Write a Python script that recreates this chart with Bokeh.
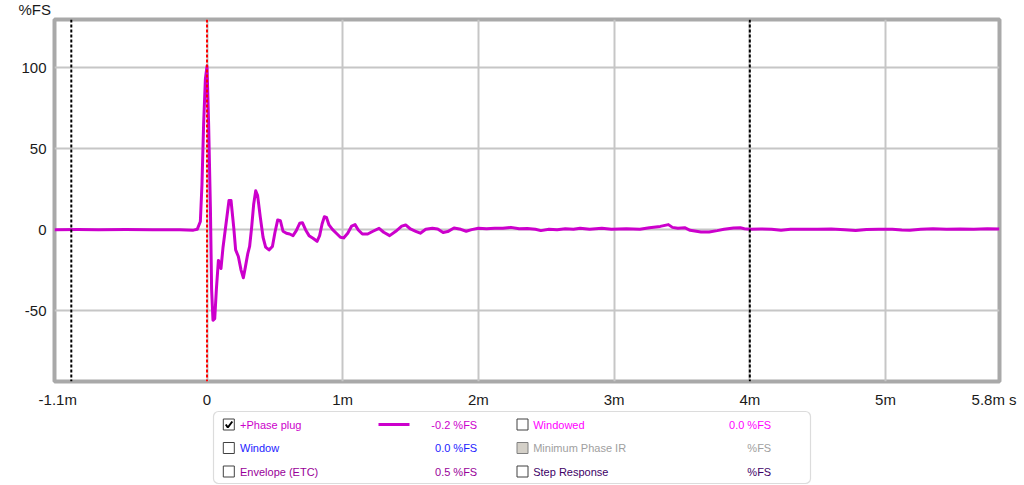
from bokeh.plotting import figure
from bokeh.models import Range1d, FixedTicker, Span, BoxAnnotation, Title
from bokeh.layouts import column
from bokeh.core.properties import value
from bokeh.embed import file_html
from bokeh.resources import INLINE

# ---------------- data ----------------
time_ms = [-1.124, -0.95, -0.80, -0.60, -0.40, -0.20, -0.10, -0.072, -0.049, -0.037, -0.025, -0.012,
           0.0, 0.012, 0.025, 0.034, 0.044, 0.057, 0.069, 0.084, 0.093, 0.103, 0.118, 0.143,
           0.162, 0.177, 0.197, 0.211, 0.231, 0.251, 0.268, 0.283, 0.300, 0.314, 0.329, 0.344,
           0.359, 0.373, 0.393, 0.413, 0.432, 0.457, 0.482, 0.501, 0.521, 0.541, 0.560, 0.585,
           0.609, 0.634, 0.658, 0.683, 0.703, 0.727, 0.752, 0.781, 0.811, 0.830, 0.848, 0.865,
           0.880, 0.899, 0.924, 0.953, 0.983, 1.007, 1.037, 1.066, 1.091, 1.115, 1.145, 1.184,
           1.223, 1.268, 1.302, 1.346, 1.391, 1.435, 1.464, 1.499, 1.538, 1.572, 1.612, 1.661,
           1.700, 1.740, 1.774, 1.82, 1.87, 1.91, 1.95, 2.00, 2.06, 2.12, 2.18, 2.24, 2.30, 2.36,
           2.42, 2.46, 2.52, 2.58, 2.64, 2.70, 2.75, 2.82, 2.91, 2.98, 3.09, 3.19, 3.26, 3.34,
           3.40, 3.43, 3.47, 3.52, 3.56, 3.64, 3.70, 3.76, 3.81, 3.88, 3.93, 3.96, 4.00, 4.08,
           4.16, 4.23, 4.30, 4.40, 4.50, 4.60, 4.70, 4.78, 4.86, 4.95, 5.05, 5.12, 5.18, 5.26,
           5.35, 5.45, 5.55, 5.65, 5.75, 5.84]
level_fs = [0.0, 0.1, 0.0, 0.1, 0.0, -0.1, -0.3, 0.2, 5, 28, 65, 93,
            101, 65, 14, -37, -56, -55, -37, -19, -21, -24, -11, 5.5,
            18, 18, 1.4, -12.5, -16.6, -25, -29.7, -23, -15, -10.4, 1.4, 15.7,
            24, 21, 7.6, -4.7, -10.8, -12.5, -10.4, -1.6, 6, 5.5, -1, -2.2,
            -2.7, -3.7, -0.6, 3.9, 4.3, -0.2, -3.7, -5.3, -7.2, -3.7, 3.5, 8,
            7.6, 2.9, 0.2, -2.2, -4.7, -5.1, -2.2, 2.2, 3.1, -0.2, -2.7, -2.7,
            -1.0, 0.8, -1.6, -3.7, -1.0, 2.2, 2.9, 0.4, -1.0, -2.2, 0.2, 0.8,
            0.4, -1.8, -1.2, 1.0, 0.2, -1.0, 0.0, 0.8, 0.6, 0.9, 0.8, 1.4, 0.5, 0.7,
            0.2, -0.6, 0.2, 0.0, 0.5, 0.2, 0.9, 0.2, 0.9, 0.3, 0.6, 0.2, 1.2, 2.0,
            3.1, 1.4, 0.9, 1.2, -0.4, -1.4, -1.4, -0.6, 0.2, 1.0, 1.2, 0.6, 0.2, 0.4,
            0.3, -0.4, 0.2, 0.3, 0.2, 0.4, 0.0, -0.6, 0.1, 0.3, 0.2, -0.2, -0.4, 0.2,
            0.6, 0.3, 0.4, 0.3, 0.5, 0.4]

x_ticks = [-1.1, 0, 1, 2, 3, 4, 5, 5.8]
x_tick_labels = ["-1.1m", "0", "1m", "2m", "3m", "4m", "5m", "5.8m s"]
x_grid = [0, 1, 2, 3, 4, 5]
y_ticks = [-50, 0, 50, 100]
y_tick_labels = ["-50", "0", "50", "100"]
y_label = "%FS"

cursor_black = [-1.0, 4.0]
cursor_red = [0.0]

legend_names = ["+Phase plug", "Window", "Envelope (ETC)", "Windowed", "Minimum Phase IR", "Step Response"]
legend_values = ["-0.2 %FS", "0.0 %FS", "0.5 %FS", "0.0 %FS", "%FS", "%FS"]
legend_colors = ["#cc00cc", "#2222ff", "#990099", "#ff00ff", "#a0a0a0", "#3d0066"]
legend_checked = [True, False, False, False, False, False]
legend_disabled = [False, False, False, False, True, False]

FONT = "Liberation Sans"
CURVE = "#cc00cc"

X0, X1 = -1.1238, 5.840
Y0, Y1 = -93.8, 129.8

# ---------------- main plot ----------------
p = figure(width=1024, height=410, x_range=Range1d(X0, X1), y_range=Range1d(Y0, Y1),
           output_backend="svg", toolbar_location=None,
           min_border_left=54, min_border_right=25, min_border_top=18, min_border_bottom=28)
p.background_fill_color = "white"
p.border_fill_color = "white"
p.outline_line_color = "#a9a9a9"
p.outline_line_width = 4

# "%FS" unit label in the top-left corner
p.title = Title(text=y_label, align="left", offset=-36, standoff=0, vertical_align="top",
                text_font=FONT, text_font_size="15px", text_font_style="normal", text_color="#1a1a1a")

p.xaxis.ticker = FixedTicker(ticks=x_ticks)
p.xaxis.major_label_overrides = {t: l for t, l in zip(x_ticks, x_tick_labels)}
p.yaxis.ticker = FixedTicker(ticks=y_ticks)
p.yaxis.major_label_overrides = {t: l for t, l in zip(y_ticks, y_tick_labels)}
for ax in (p.xaxis, p.yaxis):
    ax.axis_line_color = None
    ax.major_tick_line_color = None
    ax.minor_tick_line_color = None
    ax.major_tick_out = 0
    ax.major_tick_in = 0
    ax.minor_tick_out = 0
    ax.minor_tick_in = 0
    ax.major_label_text_font = FONT
    ax.major_label_text_font_size = "15px"
    ax.major_label_text_color = "#1a1a1a"
p.xaxis.major_label_standoff = 9
p.yaxis.major_label_standoff = 8

p.xgrid.ticker = FixedTicker(ticks=x_grid)
p.ygrid.ticker = FixedTicker(ticks=y_ticks)
for g in (p.xgrid, p.ygrid):
    g.grid_line_color = "#c6c6c6"
    g.grid_line_width = 2

p.line(time_ms, level_fs, line_color=CURVE, line_width=3, line_join="round")

for loc in cursor_black:
    p.add_layout(Span(location=loc, dimension="height", line_color="black", line_dash="3 2", line_width=2))
for loc in cursor_red:
    p.add_layout(Span(location=loc, dimension="height", line_color="#ff0000", line_dash="3 2", line_width=2))

# ---------------- legend panel (data units == page pixels) ----------------
lg = figure(width=1024, height=75, x_range=Range1d(54, 999), y_range=Range1d(485, 410),
            output_backend="svg", toolbar_location=None, x_axis_location=None, y_axis_location=None,
            min_border_left=54, min_border_right=25, min_border_top=0, min_border_bottom=0)
lg.outline_line_color = None
lg.grid.visible = False
lg.background_fill_color = "white"
lg.border_fill_color = "white"

lg.add_layout(BoxAnnotation(left=213, right=810, top=411, bottom=483, fill_color="white", fill_alpha=1,
                            line_color="#8c8c8c", line_width=1.2, border_radius=5, level="underlay"))

row_y = [424, 447.5, 471]
col_box_x = [228.3, 522]
col_text_x = [239.5, 532.7]
col_val_x = [476.7, 770.7]

bx, by, bfill, bline = [], [], [], []
tx, ty, tt, tc = [], [], [], []
vx, vy, vt = [], [], []
for i, name in enumerate(legend_names):
    c = i // 3
    r = i % 3
    bx.append(col_box_x[c]); by.append(row_y[r])
    bfill.append("#d4d0c8" if legend_disabled[i] else "white")
    bline.append("#808080" if legend_disabled[i] else "#404040")
    tx.append(col_text_x[c]); ty.append(row_y[r]); tt.append(name); tc.append(legend_colors[i])
    vx.append(col_val_x[c]); vy.append(row_y[r]); vt.append(legend_values[i])

lg.rect(x=bx, y=by, width=11, height=11, width_units="screen", height_units="screen",
        fill_color=bfill, line_color=bline, line_width=1)
lg.text(x=tx, y=ty, text=tt, text_color=tc, text_font=value(FONT), text_font_size="11px",
        text_baseline="middle", text_align="left")
lg.text(x=vx, y=vy, text=vt, text_color=tc, text_font=value(FONT), text_font_size="11px",
        text_baseline="middle", text_align="right")

for i, chk in enumerate(legend_checked):
    if chk:
        cx = col_box_x[i // 3]; cy = row_y[i % 3]
        lg.line(x=[cx - 3, cx - 1, cx + 3.5], y=[cy, cy + 3, cy - 3], line_color="black", line_width=2)
        lg.line(x=[378, 409], y=[cy, cy], line_color=CURVE, line_width=3)

layout = column(p, lg, spacing=0)
open("out.html", "w").write(file_html(layout, INLINE))
